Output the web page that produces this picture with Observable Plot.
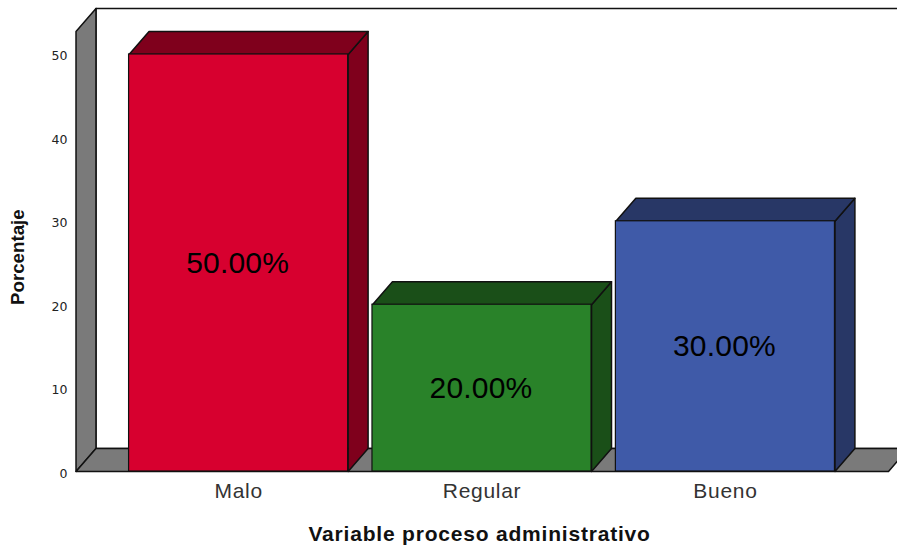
<!DOCTYPE html>
<html>
<head>
<meta charset="utf-8">
<script src="https://cdn.jsdelivr.net/npm/d3@7"></script>
<script src="https://cdn.jsdelivr.net/npm/@observablehq/plot@0.6"></script>
<style>
html,body{margin:0;padding:0;background:#fff;}
svg{display:block;}
.xtitle text{letter-spacing:0.8px;}
.cat text{letter-spacing:0.7px;}
.pct text{letter-spacing:0.2px;}
</style>
</head>
<body>
<div id="chart"></div>
<script>
const categories = ["Malo", "Regular", "Bueno"];
const values = [50, 20, 30];
const labels = ["50.00%", "20.00%", "30.00%"];
const frontColors = ["#D7002F", "#298229", "#3F5AA8"];
const darkColors = ["#7F001C", "#1A4F18", "#283766"];
const yTicks = [0, 10, 20, 30, 40, 50];
const wallColor = "#7A7A7A";
const barWidth = 0.9;
const depthX = 0.082;
const depthY = 2.76;
const wallLeft = -0.218;
const floorRight = 3.12;
const wallTop = 52.76;

const poly = (pts) => pts.concat([pts[0]]).map(([x, y]) => ({x, y}));
const faceLine = (pts, fill) => Plot.line(poly(pts), {x: "x", y: "y", fill, stroke: "#111", strokeWidth: 1.5, strokeLinejoin: "round"});

const marks = [
  faceLine([[wallLeft + depthX, depthY], [wallLeft + depthX, wallTop + depthY], [floorRight + depthX, wallTop + depthY], [floorRight + depthX, depthY]], "#fff"),
  faceLine([[wallLeft, 0], [wallLeft, wallTop], [wallLeft + depthX, wallTop + depthY], [wallLeft + depthX, depthY]], wallColor),
  faceLine([[wallLeft, 0], [floorRight, 0], [floorRight + depthX, depthY], [wallLeft + depthX, depthY]], wallColor)
];
categories.forEach((c, i) => {
  const x1 = i, x2 = i + barWidth, v = values[i];
  marks.push(
    faceLine([[x2, 0], [x2 + depthX, depthY], [x2 + depthX, v + depthY], [x2, v]], darkColors[i]),
    faceLine([[x1, v], [x1 + depthX, v + depthY], [x2 + depthX, v + depthY], [x2, v]], darkColors[i]),
    Plot.rect([i], {x1: () => x1, x2: () => x2, y1: () => 0, y2: () => v, fill: frontColors[i], stroke: "#111", strokeWidth: 1.2})
  );
});
marks.push(
  Plot.text(categories, {x: (d, i) => i + barWidth / 2, y: (d, i) => values[i] / 2, text: (d, i) => labels[i], dx: -1, dy: 0, fontSize: 30, fill: "#000", fontFamily: "Liberation Sans", className: "pct"}),
  Plot.axisY({ticks: yTicks, tickSize: 0, tickPadding: 9, dy: 2, label: null, fontSize: 12.5, fontFamily: "DejaVu Sans", color: "#222"}),
  Plot.axisX({ticks: categories.map((c, i) => i + barWidth / 2), tickFormat: (d) => categories[Math.round(d - barWidth / 2)], tickSize: 0, tickPadding: 12, label: null, fontSize: 21, fontFamily: "Liberation Sans", color: "#333", className: "cat"}),
  Plot.text(["Variable proceso administrativo"], {frameAnchor: "bottom", x: () => 1.44, dy: 69, fontSize: 21, fontWeight: "bold", fontFamily: "Liberation Sans", fill: "#111", className: "xtitle"}),
  Plot.text(["Porcentaje"], {frameAnchor: "left", textAnchor: "middle", rotate: -90, dx: -58, y: () => 25.7, fontSize: 18.7, fontWeight: "bold", fontFamily: "Liberation Sans", fill: "#111"})
);

const chart = Plot.plot({
  width: 897,
  height: 550,
  marginLeft: 76,
  marginRight: 0,
  marginTop: 0,
  marginBottom: 79,
  x: {type: "linear", domain: [wallLeft + 0.002, 3.157]},
  y: {type: "linear", domain: [0, 56.47]},
  style: {background: "#fff", fontFamily: "Liberation Sans"},
  marks
});
document.getElementById("chart").append(chart);
</script>
</body>
</html>
